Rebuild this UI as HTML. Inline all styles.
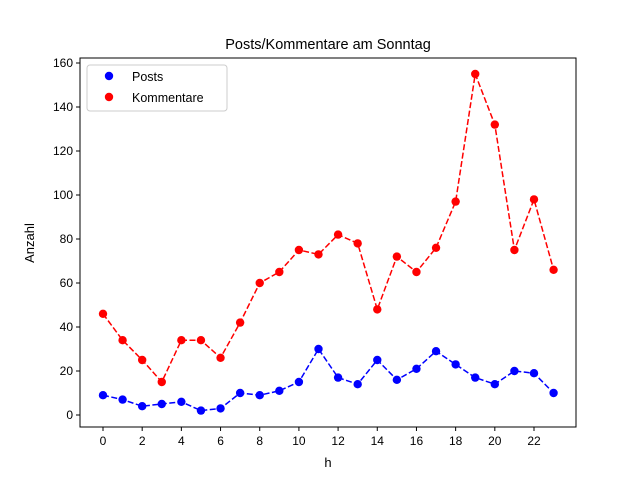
<!DOCTYPE html>
<html><head><meta charset="utf-8"><style>
body{margin:0;background:#fff;font-family:"Liberation Sans","DejaVu Sans",sans-serif}
</style></head><body>
<svg id="c" width="640" height="480" xmlns="http://www.w3.org/2000/svg"></svg>
<script>
const hours=[0,1,2,3,4,5,6,7,8,9,10,11,12,13,14,15,16,17,18,19,20,21,22,23];
const posts=[9,7,4,5,6,2,3,10,9,11,15,30,17,14,25,16,21,29,23,17,14,20,19,10];
const kommentare=[46,34,25,15,34,34,26,42,60,65,75,73,82,78,48,72,65,76,97,155,132,75,98,66];
const xTicks=[0,2,4,6,8,10,12,14,16,18,20,22];
const yTicks=[0,20,40,60,80,100,120,140,160];
const L=80,R=576,T=58,B=427;
const xs=v=>103+v*(534-103)/22;
const ys=v=>415-v*(415-63)/160;
const svg=document.getElementById('c');
const NS='http://www.w3.org/2000/svg';
function mk(t,a,txt){const e=document.createElementNS(NS,t);for(const k in a)e.setAttribute(k,a[k]);if(txt!=null)e.textContent=txt;svg.appendChild(e);return e;}
let e=mk('rect',{x:L,y:T,width:R-L,height:B-T,fill:'none',stroke:'#000','stroke-width':1});


xTicks.forEach(v=>{mk('line',{x1:xs(v),x2:xs(v),y1:B,y2:B+4,stroke:'#000'});
 e=mk('text',{x:xs(v),y:B+18,'font-size':12,'text-anchor':'middle'},v);
 
 });
yTicks.forEach(v=>{mk('line',{x1:L-4,x2:L,y1:ys(v),y2:ys(v),stroke:'#000'});
 e=mk('text',{x:L-7,y:ys(v)+4,'font-size':12,'text-anchor':'end'},v);
 
 });
e=mk('text',{x:328,y:467,'font-size':13,'text-anchor':'middle'},'h');


e=mk('text',{x:34,y:243,'font-size':13,'text-anchor':'middle',transform:'rotate(-90 34 243)'},'Anzahl');


e=mk('text',{x:328,y:49,'font-size':14.5,'text-anchor':'middle'},'Posts/Kommentare am Sonntag');


function series(vals,col,name){
 e=mk('polyline',{points:vals.map((v,i)=>xs(hours[i])+','+ys(v)).join(' '),fill:'none',stroke:col,'stroke-width':1.5,'stroke-dasharray':'6,2.5'});
 
 
 vals.forEach((v,i)=>{e=mk('circle',{cx:xs(hours[i]),cy:ys(v),r:4.2,fill:col});
  
  });
}
series(posts,'#0000ff','posts');
series(kommentare,'#ff0000','kommentare');
e=mk('rect',{x:87,y:65,width:140,height:46,rx:3,fill:'#fff',stroke:'#ccc'});


mk('circle',{cx:109,cy:76,r:4.2,fill:'#0000ff'});
e=mk('text',{x:132,y:81,'font-size':12.5},'Posts');


mk('circle',{cx:109,cy:97,r:4.2,fill:'#ff0000'});
e=mk('text',{x:132,y:102,'font-size':12.5},'Kommentare');


</script>
</body></html>
